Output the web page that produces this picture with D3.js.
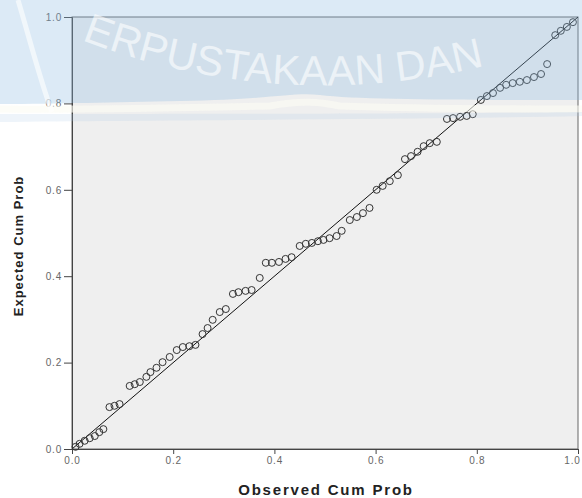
<!DOCTYPE html>
<html>
<head>
<meta charset="utf-8">
<script src="https://d3js.org/d3.v7.min.js"></script>
<style>
  body { margin: 0; background: #ffffff; }
  #chart { width: 582px; height: 498px; }
</style>
</head>
<body>
<div id="chart"></div>
<script>
// Normal P-P plot data (observed vs expected cumulative probability)
var observed = [
  0.007, 0.015, 0.025, 0.035, 0.045, 0.054, 0.062, 0.074, 0.084, 0.094,
  0.114, 0.124, 0.134, 0.147, 0.155, 0.167, 0.179, 0.193, 0.207, 0.219,
  0.232, 0.244, 0.258, 0.268, 0.278, 0.292, 0.304, 0.318, 0.329, 0.343,
  0.355, 0.371, 0.383, 0.395, 0.409, 0.422, 0.434, 0.45, 0.462, 0.474,
  0.486, 0.497, 0.509, 0.523, 0.533, 0.549, 0.563, 0.575, 0.588, 0.602,
  0.614, 0.628, 0.644, 0.658, 0.67, 0.683, 0.695, 0.707, 0.721, 0.741,
  0.753, 0.767, 0.78, 0.792, 0.808, 0.82, 0.832, 0.846, 0.858, 0.871,
  0.885, 0.899, 0.913, 0.927, 0.939, 0.955, 0.966, 0.978, 0.99
];
var expected = [
  0.005, 0.012, 0.019, 0.025, 0.03, 0.039, 0.046, 0.097, 0.1, 0.104,
  0.146, 0.15, 0.155, 0.167, 0.178, 0.188, 0.201, 0.213, 0.229, 0.236,
  0.238, 0.241, 0.266, 0.28, 0.299, 0.317, 0.324, 0.359, 0.363, 0.366,
  0.368, 0.396, 0.431, 0.431, 0.433, 0.44, 0.444, 0.47, 0.475, 0.477,
  0.481, 0.484, 0.488, 0.493, 0.505, 0.53, 0.537, 0.546, 0.558, 0.6,
  0.609, 0.62, 0.634, 0.671, 0.678, 0.688, 0.701, 0.708, 0.711, 0.764,
  0.766, 0.769, 0.771, 0.775, 0.808, 0.817, 0.824, 0.836, 0.843, 0.847,
  0.85, 0.854, 0.861, 0.868, 0.891, 0.958, 0.968, 0.977, 0.988
];
var tickValues = [0, 0.2, 0.4, 0.6, 0.8, 1.0];
var xTitle = "Observed Cum Prob";
var yTitle = "Expected Cum Prob";
var watermarkText = "ERPUSTAKAAN DAN";

var data = observed.map(function (d, i) {
  return { obs: d, exp: expected[i] };
});

// set the dimensions and margins of the graph
var margin = { top: 17, right: 4, bottom: 49, left: 72 },
  width = 582 - margin.left - margin.right,
  height = 498 - margin.top - margin.bottom;

var root = d3
  .select("#chart")
  .append("svg")
  .attr("width", 582)
  .attr("height", 498);

var svg = root
  .append("g")
  .attr("transform", "translate(" + margin.left + "," + margin.top + ")");

var x = d3.scaleLinear().domain([0, 1]).range([0, width]);
var y = d3.scaleLinear().domain([0, 1]).range([height, 0]);

// plot background
svg
  .append("rect")
  .attr("width", width)
  .attr("height", height)
  .attr("fill", "#efefef")
  .attr("stroke", "#666")
  .attr("stroke-width", 1);

// axes
var yAxis = svg
  .append("g")
  .call(
    d3.axisLeft(y).tickValues(tickValues).tickFormat(d3.format(".1f")).tickSize(8).tickPadding(2)
  );
var xAxis = svg
  .append("g")
  .attr("transform", "translate(0," + height + ")")
  .call(
    d3.axisBottom(x).tickValues(tickValues).tickFormat(d3.format(".1f")).tickSize(5).tickPadding(3)
  );
[xAxis, yAxis].forEach(function (a) {
  a.select(".domain").attr("stroke", "#444");
  a.selectAll(".tick line").attr("stroke", "#444");
  a.selectAll("text")
    .attr("fill", "#666")
    .style("font-family", "Liberation Sans, Arial, sans-serif")
    .style("font-size", "10px")
    .style("letter-spacing", "0.8px");
});
// last x label sits on the right edge, nudge it in
xAxis
  .selectAll(".tick text")
  .filter(function (d) {
    return d === 1;
  })
  .attr("dx", -6);

// diagonal reference line
svg
  .append("line")
  .attr("x1", x(0))
  .attr("y1", y(0))
  .attr("x2", x(1))
  .attr("y2", y(1))
  .attr("stroke", "#111")
  .attr("stroke-width", 1);

// points
svg
  .selectAll("circle.pt")
  .data(data)
  .enter()
  .append("circle")
  .attr("class", "pt")
  .attr("cx", function (d) {
    return x(d.obs);
  })
  .attr("cy", function (d) {
    return y(d.exp);
  })
  .attr("r", 3.5)
  .attr("fill", "none")
  .attr("stroke", "#333")
  .attr("stroke-width", 1);

// axis titles
root
  .append("text")
  .attr("x", 326)
  .attr("y", 495)
  .attr("text-anchor", "middle")
  .style("font-family", "Liberation Sans, Arial, sans-serif")
  .style("font-size", "15px")
  .style("font-weight", "bold")
  .style("letter-spacing", "1.8px")
  .attr("fill", "#222")
  .text(xTitle);
root
  .append("text")
  .attr("transform", "translate(23,246) rotate(-90)")
  .attr("text-anchor", "middle")
  .style("font-family", "Liberation Sans, Arial, sans-serif")
  .style("font-size", "13px")
  .style("font-weight", "bold")
  .style("letter-spacing", "1px")
  .attr("fill", "#222")
  .text(yTitle);

// watermark overlay at the top (blue band + arc text)
var wm = root.append("g").attr("pointer-events", "none");
wm.append("path")
  .attr("d", "M0,0 H582 V100 C470,100 360,100 320,95 C290,92 270,100 180,101 C110,102 60,104 0,104 Z")
  .attr("fill", "#8cb8e0")
  .attr("opacity", 0.3);
wm.append("path")
  .attr("d", "M0,109 C80,110 180,108 270,106 C300,100 320,102 340,106 C420,109 500,109 582,109")
  .attr("fill", "none")
  .attr("stroke", "#fbfbf4")
  .attr("stroke-width", 7)
  .attr("opacity", 0.6);
wm.append("path")
  .attr("d", "M0,122 C150,120 400,120 582,116 V112 C450,114 150,114 0,114 Z")
  .attr("fill", "#a8c8e4")
  .attr("opacity", 0.2);
wm.append("path")
  .attr("d", "M18,0 C30,40 40,80 52,112")
  .attr("fill", "none")
  .attr("stroke", "#ffffff")
  .attr("stroke-width", 5)
  .attr("opacity", 0.6);
wm.append("path")
  .attr("id", "wmArc")
  .attr("d", "M40,22 A668,668 0 0,0 590,30")
  .attr("fill", "none");
wm.append("text")
  .style("font-family", "Liberation Sans, Arial, sans-serif")
  .style("font-size", "42px")
  .attr("fill", "#ffffff")
  .attr("opacity", 0.6)
  .append("textPath")
  .attr("href", "#wmArc")
  .attr("startOffset", "8%")
  .text(watermarkText);
</script>
</body>
</html>
